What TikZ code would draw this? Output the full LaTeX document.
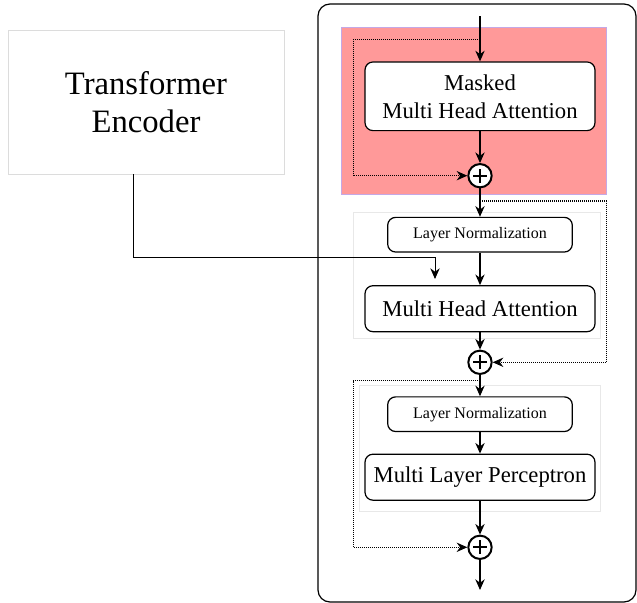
\documentclass[tikz,border=0pt]{standalone}
\usepackage{fontspec}
\setmainfont{Liberation Serif}
\usepackage{xcolor}
\usepackage{tikz}
\usetikzlibrary{arrows.meta,positioning,calc}
\definecolor{maskfill}{RGB}{255,153,153}
\definecolor{maskedge}{RGB}{196,168,230}
\definecolor{framegray}{RGB}{232,232,232}
\definecolor{encgray}{RGB}{220,220,220}

\begin{document}
\begin{tikzpicture}[x=0.75pt, y=-0.75pt,
  block/.style={draw, line width=0.9pt, rounded corners=6pt, align=center,
    inner sep=0pt, minimum width=172.5pt},
  bigblock/.style={block, minimum height=34.5pt,
    font=\fontsize{17}{21}\selectfont},
  normblock/.style={block, minimum width=138.5pt, minimum height=26pt,
    font=\fontsize{12}{14}\selectfont},
  encbox/.style={draw=encgray, line width=0.6pt, align=center,
    minimum width=207pt, minimum height=107.5pt,
    font=\fontsize{24.5}{28.5}\selectfont},
  addnode/.style={circle, draw, line width=1.5pt, minimum size=17.5pt,
    inner sep=0pt, fill=white,
    path picture={
      \draw[line width=1.5pt] ([xshift=-5.2pt]path picture bounding box.center)
        -- ([xshift=5.2pt]path picture bounding box.center);
      \draw[line width=1.5pt] ([yshift=-5.2pt]path picture bounding box.center)
        -- ([yshift=5.2pt]path picture bounding box.center);}},
  flow/.style={-{Stealth[length=8pt,width=7pt]}, line width=0.9pt},
  skip/.style={-{Stealth[length=8pt,width=7pt]}, line width=0.8pt,
    dash pattern=on 0.8pt off 0.7pt}
]
\useasboundingbox (0,0) rectangle (637,603);

% Decoder block with its three sub-layers.
\draw[line width=0.9pt, rounded corners=9pt] (318,4) rectangle (636,602);
\draw[fill=maskfill, draw=maskedge, line width=0.6pt] (341.7,27.3) rectangle (606.7,194);
\draw[draw=framegray, line width=0.6pt] (353.3,212.7) rectangle (600,338.3);
\draw[draw=framegray, line width=0.6pt] (359.3,385) rectangle (600.7,511.7);

\node[encbox] (encoder) at (146,102.3) {Transformer\\Encoder};

\node[bigblock, fill=white, minimum height=51.5pt] (masked) at (480,96.3)
  {Masked\\Multi Head Attention};
\node[addnode] (add1) at (480,175.7) {};
\node[normblock, fill=white] (norm1) at (480,234.7) {Layer Normalization};
\node[bigblock, fill=white] (mha) at (480,308.7) {Multi Head Attention};
\node[addnode] (add2) at (480,362.3) {};
\node[normblock, fill=white] (norm2) at (480,414.2) {Layer Normalization};
\node[bigblock, fill=white] (mlp) at (480,477.2) {Multi Layer Perceptron};
\node[addnode] (add3) at (480,547.3) {};

\coordinate (input) at (480,16);
\coordinate (output) at (480,590);
\coordinate (skipa) at (480,39.3);
\coordinate (skipb) at (480,201);
\coordinate (skipc) at (480,380.7);
\coordinate (crossq) at (435,257);

\draw[flow] (input) -- (masked);
\draw[flow] (masked) -- (add1);
\draw[flow] (add1) -- (norm1);
\draw[flow] (norm1) -- (mha);
\draw[flow] (mha) -- (add2);
\draw[flow] (add2) -- (norm2);
\draw[flow] (norm2) -- (mlp);
\draw[flow] (mlp) -- (add3);
\draw[flow] (add3) -- (output);

% Residual paths.
\draw[skip] (skipa) -- ++(-126.7,0) |- (add1);
\draw[skip] (skipb) -- ++(126.3,0) |- (add2);
\draw[skip] (skipc) -- ++(-126.7,0) |- (add3);

\draw[flow, line width=0.7pt] ([xshift=-9.75pt]encoder.south) |- (crossq) -- ++(0,22);

\end{tikzpicture}
\end{document}
